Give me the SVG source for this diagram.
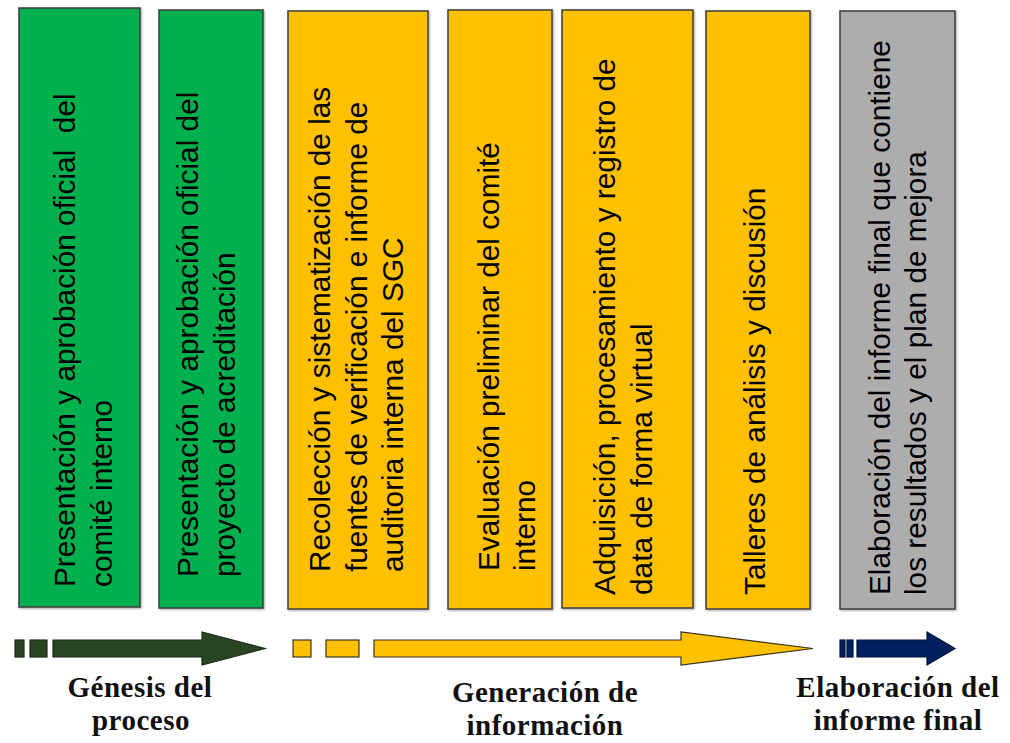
<svg xmlns="http://www.w3.org/2000/svg" width="1010" height="743" viewBox="0 0 1010 743">
<style>
.box{stroke:#3c3c3c;stroke-width:1.5}
.g{fill:#00B050}
.y{fill:#FFC000}
.gr{fill:#ADADAD}
.t{font-family:"Liberation Sans",Arial,sans-serif;font-size:29.8px;fill:#000}
.lbl{font-family:"Liberation Serif","Times New Roman",serif;font-weight:bold;font-size:29px;letter-spacing:0.5px;fill:#111;text-anchor:middle}
.ag{fill:#284421;stroke:#1c2c16;stroke-width:1.2}
.ay{fill:#FFC000;stroke:#3a3320;stroke-width:1.2}
.ab{fill:#002060;stroke:#001538;stroke-width:1.2}
</style>
<defs>
<filter id="sh" x="-5%" y="-5%" width="110%" height="110%">
<feDropShadow dx="1" dy="1" stdDeviation="0.8" flood-color="#000" flood-opacity="0.35"/>
</filter>
</defs>
<rect width="1010" height="743" fill="#fff"/>

<g id="node1">
<rect class="box g" x="19" y="8" width="121" height="599" filter="url(#sh)"/>
<text class="t" xml:space="preserve" transform="translate(75,587) rotate(-90)"><tspan x="0" y="0">Presentación y aprobación oficial  del</tspan><tspan x="0" y="37">comité interno</tspan></text>
</g>
<g id="node2">
<rect class="box g" x="159" y="10" width="104" height="598" filter="url(#sh)"/>
<text class="t" transform="translate(198,577) rotate(-90)"><tspan x="0" y="0">Presentación y aprobación oficial del</tspan><tspan x="0" y="37">proyecto de acreditación</tspan></text>
</g>
<g id="node3">
<rect class="box y" x="288" y="11" width="140" height="598" filter="url(#sh)"/>
<text class="t" transform="translate(330,572) rotate(-90)"><tspan x="0" y="0">Recolección y sistematización de las</tspan><tspan x="0" y="37">fuentes de verificación e informe de</tspan><tspan x="0" y="73">auditoria interna del SGC</tspan></text>
</g>
<g id="node4">
<rect class="box y" x="448" y="10" width="104" height="599" filter="url(#sh)"/>
<text class="t" transform="translate(499,571) rotate(-90)"><tspan x="0" y="0">Evaluación preliminar del comité</tspan><tspan x="0" y="36">interno</tspan></text>
</g>
<g id="node5">
<rect class="box y" x="562" y="10" width="131" height="598" filter="url(#sh)"/>
<text class="t" transform="translate(615,595) rotate(-90)"><tspan x="0" y="0">Adquisición, procesamiento y registro de</tspan><tspan x="0" y="37">data de forma virtual</tspan></text>
</g>
<g id="node6">
<rect class="box y" x="706" y="11" width="104" height="598" filter="url(#sh)"/>
<text class="t" transform="translate(765,595) rotate(-90)"><tspan x="0" y="0">Talleres de análisis y discusión</tspan></text>
</g>
<g id="node7">
<rect class="box gr" x="840" y="11" width="115" height="598" filter="url(#sh)"/>
<text class="t" transform="translate(890,595) rotate(-90)"><tspan x="0" y="0">Elaboración del informe final que contiene</tspan><tspan x="0" y="36">los resultados y el plan de mejora</tspan></text>
</g>

<g id="connectors">
<rect class="ag" x="15" y="640" width="9" height="17"/>
<rect class="ag" x="30" y="640" width="17" height="17"/>
<polygon class="ag" points="53,640 202,640 202,632 265,648.5 202,665 202,657 53,657"/>
<rect class="ay" x="293" y="640" width="18" height="17"/>
<rect class="ay" x="326" y="640" width="33" height="17"/>
<polygon class="ay" points="374,640 681,640 681,632 813,648.5 681,665 681,657 374,657"/>
<rect class="ab" x="840" y="640" width="5" height="17"/>
<rect class="ab" x="847" y="640" width="6" height="17"/>
<polygon class="ab" points="857,640 927,640 927,632 955,648.5 927,665 927,657 857,657"/>
</g>

<g id="labels">
<text class="lbl" x="140" y="697">Génesis del</text>
<text class="lbl" x="141" y="730">proceso</text>
<text class="lbl" x="545" y="702">Generación de</text>
<text class="lbl" x="545" y="735">información</text>
<text class="lbl" x="898" y="697">Elaboración del</text>
<text class="lbl" x="898" y="730">informe final</text>
</g>
</svg>
